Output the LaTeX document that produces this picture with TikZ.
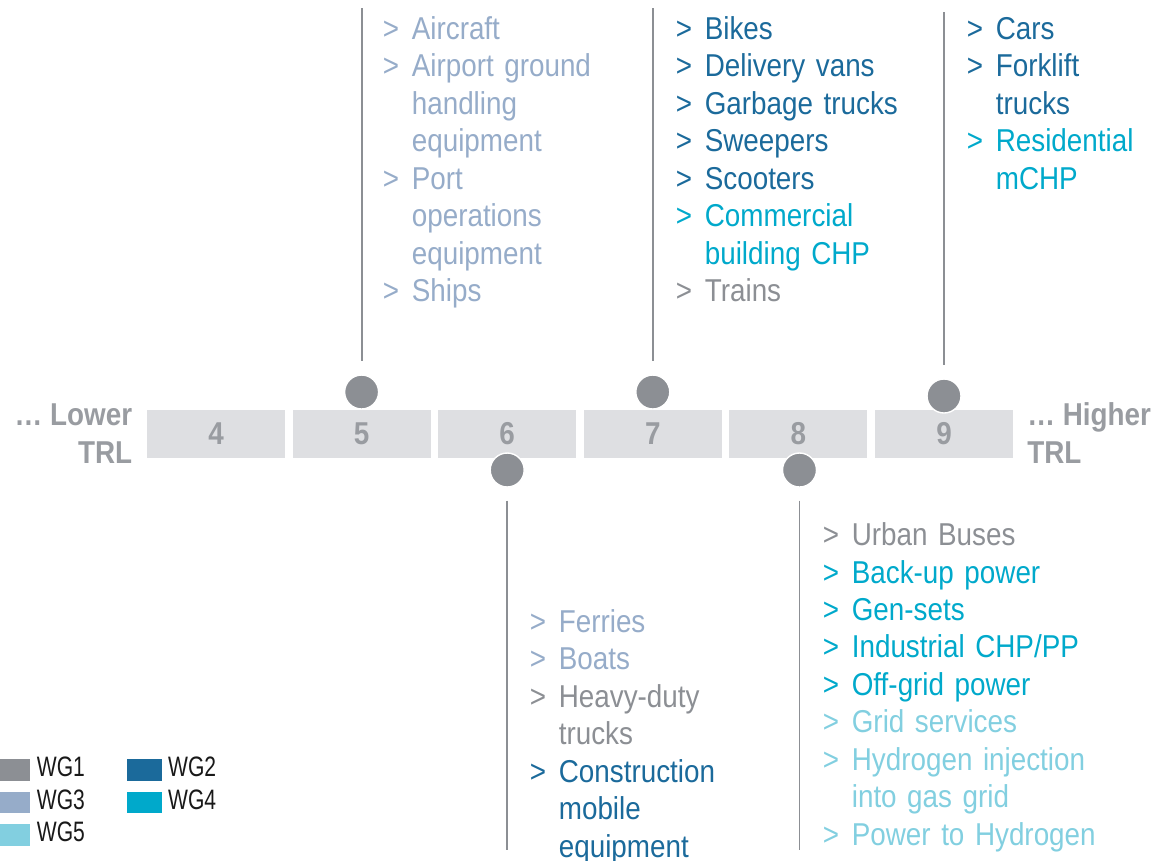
\documentclass[tikz,border=0pt]{standalone}
\usepackage{fontspec}
\setmainfont[FakeStretch=0.88]{Liberation Sans}
\newfontfamily\legendfont[FakeStretch=0.75]{Liberation Sans}
\usepackage{xcolor}
\usepackage{tikz}
\usetikzlibrary{calc}

\definecolor{wgone}{HTML}{8C8F94}
\definecolor{wgtwo}{HTML}{1B6A9B}
\definecolor{wgthree}{HTML}{96ACC9}
\definecolor{wgfour}{HTML}{00A9CB}
\definecolor{wgfive}{HTML}{82CFE0}
\definecolor{boxgray}{HTML}{DEDFE2}
\definecolor{numgray}{HTML}{999CA1}

% one entry of a list: marker and text
\newcommand{\trlitem}[2]{{\color{#1}\makebox[0.58cm][l]{>}#2}}
% continuation line of an entry
\newcommand{\trlcont}[2]{{\color{#1}\hspace*{0.58cm}#2}}

\begin{document}
\begin{tikzpicture}[x=0.02cm, y=-0.02cm,
        trlbox/.style={fill=boxgray, minimum width=2.76cm, minimum height=0.96cm,
            inner sep=0, text=numgray, font=\fontsize{18}{20}\selectfont\bfseries},
        dot/.style={circle, fill=wgone, draw=white, line width=0.8pt,
            minimum size=0.68cm, inner sep=0},
        stem/.style={wgone, line width=1.1pt},
        trllist/.style={anchor=base west, inner sep=0, text width=7cm, align=left,
            font=\fontsize{18}{21.34}\selectfont},
        trlend/.style={inner sep=0, text=numgray,
            font=\fontsize{18}{21.34}\selectfont\bfseries},
        legtext/.style={anchor=base west, inner sep=0, text=black!90,
            font=\legendfont\fontsize{16}{18}\selectfont}]
    \useasboundingbox (0,0) rectangle (1166,860);

    % TRL scale
    \foreach \n [count=\i from 0] in {4,...,9} {
        \node[trlbox] (box\n) at ({216+145.6*\i}, 434) {\n};
    }

    \node[trlend, anchor=base east, align=right] (lower) at (132.5,463) {… Lower\\TRL};
    \node[trlend, anchor=base west, align=left] (higher) at (1027,463) {… Higher\\TRL};

    % Markers above and below the scale
    \node[dot] (dot5) at (361.6,392) {};
    \node[dot] (dot7) at (652.8,392) {};
    \node[dot] (dot9) at (944,396) {};
    \node[dot] (dot6) at (507.2,470) {};
    \node[dot] (dot8) at (799.5,470) {};

    % Stems
    \coordinate (top5) at (361.6,8);
    \coordinate (top7) at (652.8,8);
    \coordinate (top9) at (944,12);
    \coordinate (bot6) at (507.2,850);
    \coordinate (bot8) at (799.5,850);
    \draw[stem, shorten >=0.26cm] (top5) -- (dot5);
    \draw[stem, shorten >=0.26cm] (top7) -- (dot7);
    \draw[stem, shorten >=0.26cm] (top9) -- (dot9);
    \draw[stem, shorten <=0.26cm] (dot6) -- (bot6);
    \draw[stem, shorten <=0.26cm] (dot8) -- (bot8);

    % Applications per TRL
    \node[trllist] (list5) at (382.5,39.3) {%
        \trlitem{wgthree}{Aircraft}\\
        \trlitem{wgthree}{Airport ground}\\
        \trlcont{wgthree}{handling}\\
        \trlcont{wgthree}{equipment}\\
        \trlitem{wgthree}{Port}\\
        \trlcont{wgthree}{operations}\\
        \trlcont{wgthree}{equipment}\\
        \trlitem{wgthree}{Ships}};

    \node[trllist] (list7) at (675.5,39.3) {%
        \trlitem{wgtwo}{Bikes}\\
        \trlitem{wgtwo}{Delivery vans}\\
        \trlitem{wgtwo}{Garbage trucks}\\
        \trlitem{wgtwo}{Sweepers}\\
        \trlitem{wgtwo}{Scooters}\\
        \trlitem{wgfour}{Commercial}\\
        \trlcont{wgfour}{building CHP}\\
        \trlitem{wgone}{Trains}};

    \node[trllist] (list9) at (966.5,39.3) {%
        \trlitem{wgtwo}{Cars}\\
        \trlitem{wgtwo}{Forklift}\\
        \trlcont{wgtwo}{trucks}\\
        \trlitem{wgfour}{Residential}\\
        \trlcont{wgfour}{mCHP}};

    \node[trllist] (list6) at (529.5,632.3) {%
        \trlitem{wgthree}{Ferries}\\
        \trlitem{wgthree}{Boats}\\
        \trlitem{wgone}{Heavy-duty}\\
        \trlcont{wgone}{trucks}\\
        \trlitem{wgtwo}{Construction}\\
        \trlcont{wgtwo}{mobile}\\
        \trlcont{wgtwo}{equipment}};

    \node[trllist] (list8) at (822.5,545.5) {%
        \trlitem{wgone}{Urban Buses}\\
        \trlitem{wgfour}{Back-up power}\\
        \trlitem{wgfour}{Gen-sets}\\
        \trlitem{wgfour}{Industrial CHP/PP}\\
        \trlitem{wgfour}{Off-grid power}\\
        \trlitem{wgfive}{Grid services}\\
        \trlitem{wgfive}{Hydrogen injection}\\
        \trlcont{wgfive}{into gas grid}\\
        \trlitem{wgfive}{Power to Hydrogen}};

    % Legend
    \foreach \c/\t/\x/\y in {wgone/WG1/-4/759, wgtwo/WG2/127.3/759,
            wgthree/WG3/-4/791.5, wgfour/WG4/127.3/791.5, wgfive/WG5/-4/824} {
        \fill[\c] (\x,\y) rectangle ++(34.3,21.7);
        \node[legtext] (leg\t) at (\x+40.5,\y+17.7) {\t};
    }
\end{tikzpicture}
\end{document}
